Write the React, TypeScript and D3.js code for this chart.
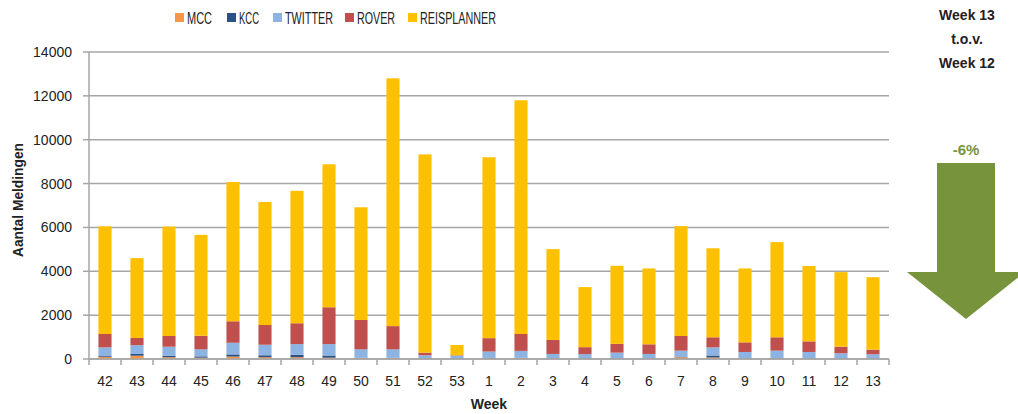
import React from 'react';
import * as d3 from 'd3';

const weeks = ['42', '43', '44', '45', '46', '47', '48', '49', '50', '51', '52', '53', '1', '2', '3', '4', '5', '6', '7', '8', '9', '10', '11', '12', '13'];
const mcc = [90, 150, 80, 60, 110, 80, 80, 60, 40, 40, 20, 10, 30, 40, 20, 20, 20, 20, 80, 70, 20, 30, 20, 20, 20];
const kcc = [40, 80, 60, 60, 100, 90, 110, 100, 20, 20, 10, 10, 20, 20, 10, 10, 10, 10, 30, 90, 10, 10, 10, 10, 10];
const twitter = [400, 400, 420, 320, 530, 480, 490, 520, 380, 380, 140, 130, 290, 310, 200, 190, 260, 200, 270, 370, 290, 340, 290, 230, 185];
const rover = [610, 330, 490, 620, 980, 900, 950, 1680, 1340, 1060, 120, 20, 610, 770, 640, 320, 400, 440, 670, 460, 440, 610, 485, 300, 210];
const reisplanner = [4910, 3640, 4990, 4600, 6350, 5610, 6040, 6520, 5140, 11300, 9040, 470, 8250, 10660, 4140, 2740, 3560, 3460, 5010, 4060, 3370, 4340, 3435, 3400, 3305];

const seriesNames = ['MCC', 'KCC', 'TWITTER', 'ROVER', 'REISPLANNER'];
const seriesColors = ['#F79646', '#2C5285', '#8DB3E2', '#C0504D', '#FFC000'];
const yTicks = [0, 2000, 4000, 6000, 8000, 10000, 12000, 14000];

const compareLines = ['Week 13', 't.o.v.', 'Week 12'];
const changeLabel = '-6%';

const W = 1018;
const H = 414;
const plot = { left: 89, right: 889, top: 52, bottom: 359 };
const textColor = '#222';
const gridColor = '#A6A6A6';
const font = '"Liberation Sans", Arial, sans-serif';

export default function App() {
  const rows = weeks.map((w, i) => ({
    week: w,
    MCC: mcc[i],
    KCC: kcc[i],
    TWITTER: twitter[i],
    ROVER: rover[i],
    REISPLANNER: reisplanner[i],
  }));
  const stacked = d3.stack<any>().keys(seriesNames)(rows);

  const x = d3
    .scaleBand<string>()
    .domain(weeks)
    .range([plot.left, plot.right])
    .paddingInner(0.59)
    .paddingOuter(0.295);
  const y = d3.scaleLinear().domain([0, 14000]).range([plot.bottom, plot.top]);

  const gap = (x.step() - x.bandwidth()) / 2;
  const boundaries = weeks.map(w => (x(w) as number) - gap).concat([plot.right]);

  // legend: swatch x and text width (condensed look)
  const legendX = [175, 227, 273, 345, 408];
  const legendW = [25, 20, 48, 38, 76];

  // arrow geometry
  const ax = 966;
  const arrow = d3.path();
  arrow.moveTo(ax - 29, 163);
  arrow.lineTo(ax + 29, 163);
  arrow.lineTo(ax + 29, 272);
  arrow.lineTo(ax + 59, 272);
  arrow.lineTo(ax, 319);
  arrow.lineTo(ax - 59, 272);
  arrow.lineTo(ax - 29, 272);
  arrow.closePath();

  return (
    <svg width={W} height={H} style={{ position: 'absolute', left: 0, top: 0, background: '#fff' }}>
      {/* grid */}
      {yTicks.map(t => (
        <line key={'g' + t} x1={plot.left} x2={plot.right} y1={y(t)} y2={y(t)} stroke={gridColor} strokeWidth={1.5} />
      ))}

      {/* bars */}
      {stacked.map((s, si) => (
        <g key={s.key} fill={seriesColors[si]}>
          {s.map((d, i) => (
            <rect
              key={i}
              x={x(weeks[i])}
              width={x.bandwidth()}
              y={y(d[1])}
              height={Math.max(0, y(d[0]) - y(d[1]))}
            />
          ))}
        </g>
      ))}

      {/* axes */}
      <line x1={plot.left} x2={plot.left} y1={plot.top} y2={plot.bottom} stroke={gridColor} strokeWidth={1.5} />
      <line x1={plot.left} x2={plot.right} y1={plot.bottom} y2={plot.bottom} stroke={gridColor} strokeWidth={1.5} />
      {yTicks.map(t => (
        <g key={'yt' + t}>
          <line x1={plot.left - 6} x2={plot.left} y1={y(t)} y2={y(t)} stroke={gridColor} strokeWidth={1.5} />
          <text x={72} y={y(t)} dy="0.36em" textAnchor="end" fontFamily={font} fontSize={14} fill={textColor}>
            {t}
          </text>
        </g>
      ))}
      {boundaries.map((b, i) => (
        <line key={'xt' + i} x1={b} x2={b} y1={plot.bottom} y2={plot.bottom + 6} stroke={gridColor} strokeWidth={1.5} />
      ))}
      {weeks.map(w => (
        <text
          key={'xl' + w}
          x={(x(w) as number) + x.bandwidth() / 2}
          y={381}
          dy="0.36em"
          textAnchor="middle"
          fontFamily={font}
          fontSize={14}
          fill={textColor}
        >
          {w}
        </text>
      ))}

      {/* axis titles */}
      <text x={489} y={404} dy="0.36em" textAnchor="middle" fontFamily={font} fontWeight="bold" fontSize={14} fill={textColor}>
        Week
      </text>
      <text
        transform={`translate(18, 200) rotate(-90)`}
        textAnchor="middle"
        dy="0.36em"
        fontFamily={font}
        fontWeight="bold"
        fontSize={14}
        textLength={114}
        lengthAdjust="spacingAndGlyphs"
        fill={textColor}
      >
        Aantal Meldingen
      </text>

      {/* legend */}
      {seriesNames.map((n, i) => (
        <g key={'lg' + n}>
          <rect x={legendX[i]} y={13} width={9} height={9} fill={seriesColors[i]} />
          <text
            x={legendX[i] + 12}
            y={18}
            dy="0.36em"
            fontFamily={font}
            fontSize={16}
            textLength={legendW[i]}
            lengthAdjust="spacingAndGlyphs"
            fill={textColor}
          >
            {n}
          </text>
        </g>
      ))}

      {/* comparison panel */}
      {compareLines.map((l, i) => (
        <text
          key={'cl' + i}
          x={967}
          y={15 + i * 24}
          dy="0.36em"
          textAnchor="middle"
          fontFamily={font}
          fontWeight="bold"
          fontSize={14}
          fill={textColor}
        >
          {l}
        </text>
      ))}
      <text x={966} y={150} dy="0.36em" textAnchor="middle" fontFamily={font} fontWeight="bold" fontSize={15} fill="#77933C">
        {changeLabel}
      </text>
      <path d={arrow.toString()} fill="#77933C" />
    </svg>
  );
}
